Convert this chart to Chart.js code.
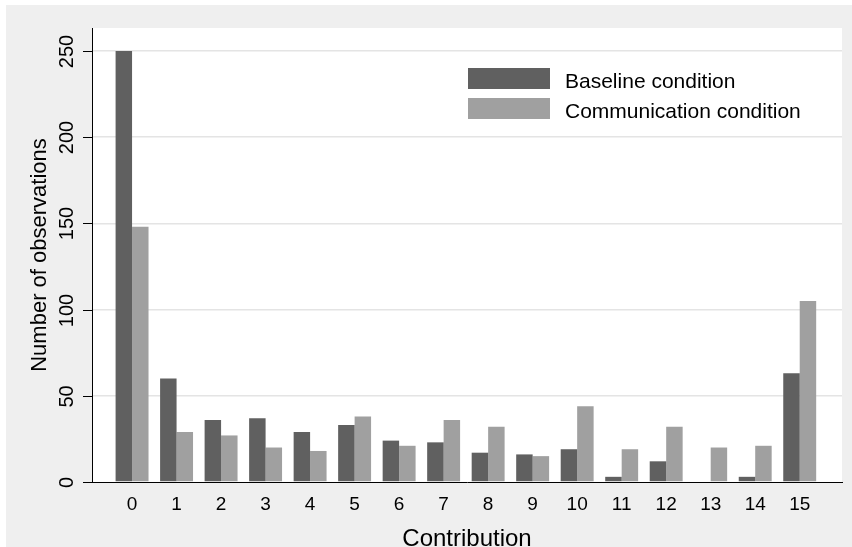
<!DOCTYPE html>
<html>
<head>
<meta charset="utf-8">
<script src="https://cdn.jsdelivr.net/npm/chart.js@4.4.1/dist/chart.umd.min.js"></script>
<style>
    html, body { margin: 0; padding: 0; background: #fff; }
    #wrap { width: 852px; height: 547px; }
</style>
</head>
<body>
<div id="wrap"><canvas id="chart" width="852" height="547"></canvas></div>
<script>
// --- Data ---
const contributions = [0, 1, 2, 3, 4, 5, 6, 7, 8, 9, 10, 11, 12, 13, 14, 15];
const baseline      = [250, 60, 36, 37, 29, 33, 24, 23, 17, 16, 19, 3, 12, 0, 3, 63];
const communication = [148, 29, 27, 20, 18, 38, 21, 36, 32, 15, 44, 19, 32, 20, 21, 105];
const yTicks        = [0, 50, 100, 150, 200, 250];

const DARK  = "#606060";
const LIGHT = "#a0a0a0";
const FONT  = "'Liberation Sans', Arial, sans-serif";

// Stata-like frame: grey graph region, white plot region
const backdrop = {
    id: "backdrop",
    beforeDraw(chart) {
        const { ctx, chartArea: a } = chart;
        ctx.save();
        ctx.fillStyle = "#fff";
        ctx.fillRect(0, 0, chart.width, chart.height);
        ctx.fillStyle = "#efefef";
        ctx.fillRect(6, 5, chart.width - 6, chart.height - 5);
        ctx.fillStyle = "#fff";
        ctx.fillRect(a.left, a.top, a.right - a.left, a.bottom - a.top);
        ctx.restore();
    }
};

// Axis labels, titles and legend drawn by hand (rotated y labels)
const annotations = {
    id: "annotations",
    afterDraw(chart) {
        const { ctx, chartArea: a, scales } = chart;
        const y = scales.y, x = scales.x;
        ctx.save();
        ctx.fillStyle = "#000";
        ctx.strokeStyle = "#000";
        ctx.lineWidth = 1;

        // y ticks + rotated labels
        ctx.font = `20px ${FONT}`;
        ctx.textAlign = "center";
        ctx.textBaseline = "middle";
        yTicks.forEach(v => {
            const py = Math.round(y.getPixelForValue(v)) + 0.5;
            ctx.beginPath();
            ctx.moveTo(a.left - 9, py);
            ctx.lineTo(a.left, py);
            ctx.stroke();
            ctx.save();
            ctx.translate(67, py);
            ctx.rotate(-Math.PI / 2);
            ctx.fillText(String(v), 0, 0);
            ctx.restore();
        });

        // y title
        ctx.font = `22px ${FONT}`;
        ctx.save();
        ctx.translate(40, (a.top + a.bottom) / 2);
        ctx.rotate(-Math.PI / 2);
        ctx.fillText("Number of observations", 0, 0);
        ctx.restore();

        // x labels
        ctx.font = `19px ${FONT}`;
        ctx.textBaseline = "alphabetic";
        contributions.forEach(c => {
            ctx.fillText(String(c), x.getPixelForValue(c), 510);
        });

        // x title
        ctx.font = `24px ${FONT}`;
        ctx.fillText("Contribution", (a.left + a.right) / 2, 546);

        // legend
        ctx.font = `21px ${FONT}`;
        ctx.textAlign = "left";
        chart.data.datasets.forEach((ds, i) => {
            const top = 68 + i * 30;
            ctx.fillStyle = ds.backgroundColor;
            ctx.fillRect(468, top, 82, 21);
            ctx.fillStyle = "#000";
            ctx.fillText(ds.label, 565, top + 20);
        });

        ctx.restore();
    }
};

new Chart(document.getElementById("chart"), {
    type: "bar",
    data: {
        datasets: [
            {
                label: "Baseline condition",
                data: contributions.map((c, i) => ({ x: c, y: baseline[i] })),
                backgroundColor: DARK
            },
            {
                label: "Communication condition",
                data: contributions.map((c, i) => ({ x: c, y: communication[i] })),
                backgroundColor: LIGHT
            }
        ]
    },
    options: {
        responsive: false,
        animation: false,
        layout: { padding: { left: 0, top: 28, right: 10, bottom: 0 } },
        categoryPercentage: 0.74,
        barPercentage: 1.0,
        plugins: {
            legend: { display: false },
            tooltip: { enabled: false }
        },
        scales: {
            x: {
                type: "linear",
                offset: false,
                min: -0.9,
                max: 15.95,
                afterBuildTicks: s => { s.ticks = contributions.map(v => ({ value: v })); },
                afterFit: s => { s.height = 65; },
                ticks: { display: false },
                grid: { display: false, drawTicks: false, offset: false },
                border: { display: true, color: "#000", width: 1 }
            },
            y: {
                min: 0,
                max: 263.3,
                afterBuildTicks: s => { s.ticks = yTicks.map(v => ({ value: v })); },
                afterFit: s => { s.width = 92; },
                ticks: { display: false },
                grid: {
                    drawTicks: false,
                    lineWidth: 1.5,
                    color: c => (c.tick && c.tick.value === 0 ? "rgba(0,0,0,0)" : "#e4e4e4")
                },
                border: { display: true, color: "#000", width: 1 }
            }
        }
    },
    plugins: [backdrop, annotations]
});
</script>
</body>
</html>
